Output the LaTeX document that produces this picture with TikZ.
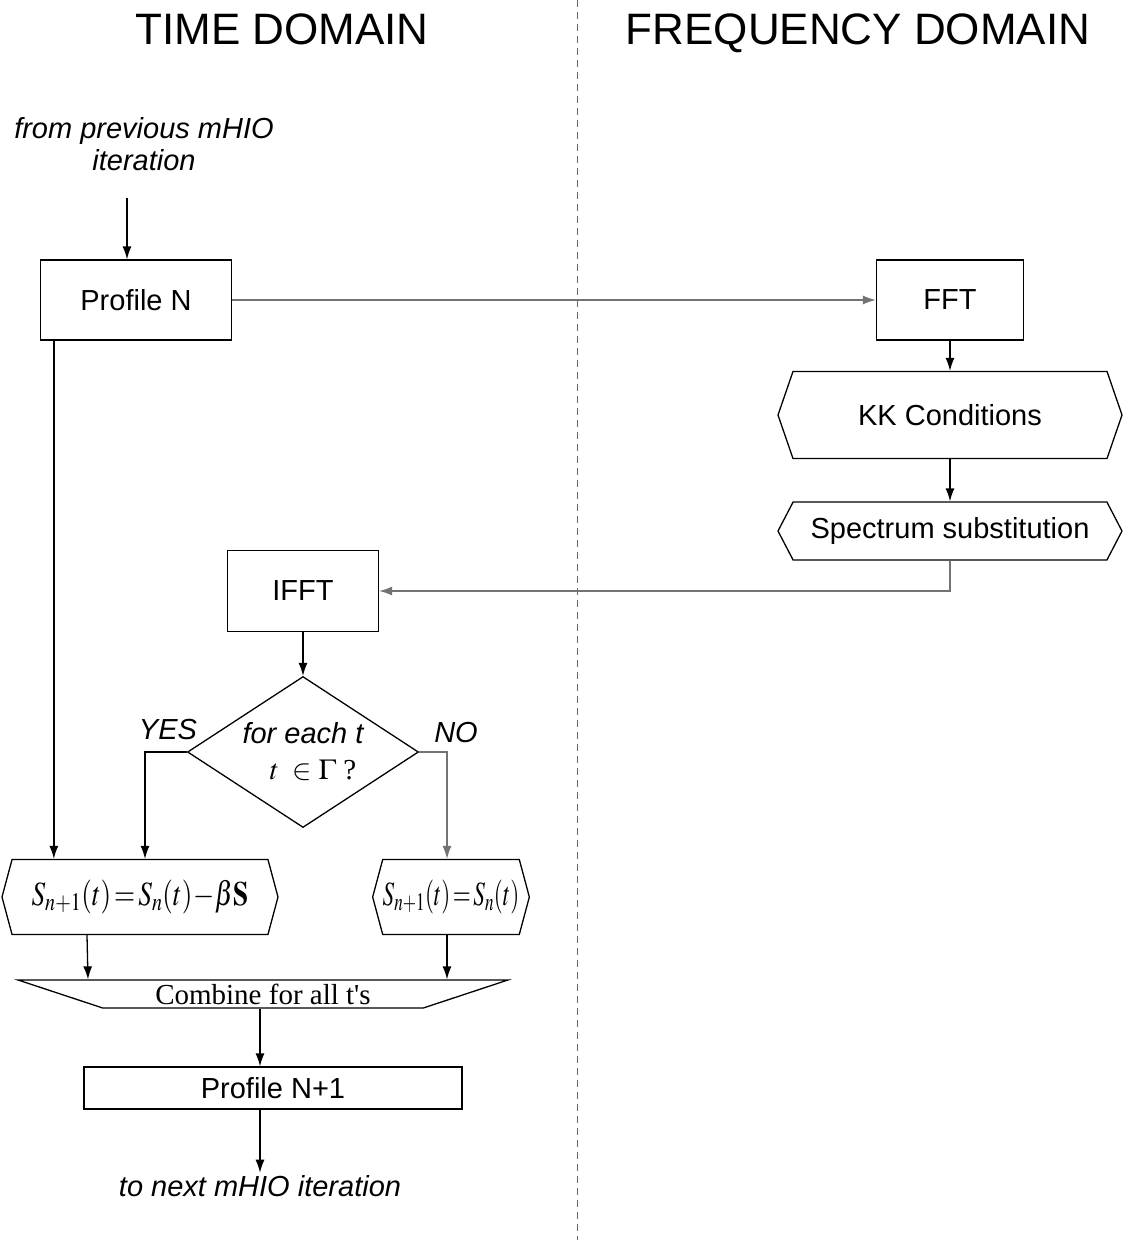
\documentclass[tikz,border=0pt]{standalone}
\usepackage{mathptmx}
\usepackage{graphicx}
\usepackage{fontspec}
\setmainfont{Liberation Serif}
\setsansfont{Liberation Sans}
\usetikzlibrary{arrows.meta, positioning, shapes.geometric, shapes.symbols}

\begin{document}
\begin{tikzpicture}[
    x=1pt, y=-1pt,
    >={Latex[length=13pt, width=9pt]},
    line width=1.3pt,
    every node/.style={font=\sffamily\fontsize{29}{32}\selectfont},
    box/.style={draw, rectangle, inner sep=0pt},
    prep/.style={draw, signal, signal to=east and west, inner sep=0pt},
    decision/.style={draw, diamond, aspect=1.53, inner sep=0pt, align=center},
    merge/.style={draw, trapezium, shape border rotate=180, trapezium stretches=true, inner sep=0pt},
    note/.style={font=\sffamily\itshape\fontsize{29}{32}\selectfont, align=center},
    faint/.style={black!55}
  ]
  \useasboundingbox (0,0) rectangle (1123,1240);

  % Headings
  \node[font=\sffamily\fontsize{44}{50}\selectfont] (time) at (282,29) {TIME DOMAIN};
  \node[font=\sffamily\fontsize{44}{50}\selectfont] (freq) at (858,33) {FREQUENCY DOMAIN};
  \draw[black!60, line width=1pt, dash pattern=on 7pt off 5pt] (577,0) -- (577,1240);

  % Time domain
  \node[note] (prev) at (144,144) {from previous mHIO\\iteration};
  \coordinate (prevend) at (127,198);
  \node[box, minimum width=191pt, minimum height=80pt] (profn) at (136,300) {Profile N};
  \node[box, minimum width=151pt, minimum height=81pt] (ifft) at (303,591) {IFFT};
  \node[decision, minimum width=231pt, minimum height=151pt] (test) at (303,752)
    {\itshape for each t\\[4pt]\hspace*{20pt}{\rmfamily$t\ \in\Gamma$ ?}};
  \node[font=\sffamily\itshape\fontsize{29}{32}\selectfont] (yes) at (168,730) {YES};
  \node[font=\sffamily\itshape\fontsize{29}{32}\selectfont] (no) at (456,733) {NO};
  \node[prep, signal pointer angle=150, minimum width=276pt, minimum height=75pt, font=\rmfamily\fontsize{34}{36}\selectfont] (upd) at (140,897)
    {\scalebox{0.8}[1]{$S_{n+1}(t)\!=\!S_n(t)\!-\!\beta\mathbf{S}$}};
  \node[prep, signal pointer angle=150, minimum width=142pt, minimum height=75pt, font=\rmfamily\fontsize{34}{36}\selectfont] (keep) at (451,897)
    {\scalebox{0.68}[1]{$S_{n+1}(t)\!=\!S_n(t)$}};
  \node[merge, trapezium angle=20, minimum width=490pt, minimum height=28pt, font=\rmfamily\fontsize{29}{30}\selectfont] (comb) at (263,994)
    {Combine for all t\textquotesingle s};
  \node[box, minimum width=378pt, minimum height=42pt] (pnext) at (273,1088) {Profile N+1};
  \node[note, inner sep=2pt] (next) at (260,1186) {to next mHIO iteration};

  % Frequency domain
  \node[box, minimum width=147pt, minimum height=80pt] (fft) at (950,300) {FFT};
  \node[prep, signal pointer angle=142, minimum width=344pt, minimum height=87pt] (kk) at (950,415) {KK Conditions};
  \node[prep, signal pointer angle=125, minimum width=344pt, minimum height=58pt] (spec) at (950,531) {Spectrum substitution};

  % Arrows
  \draw[->] (prevend) -- (prevend |- profn.north);
  \draw[->, faint] (profn.east) -- (fft.west);
  \draw[->] (fft.south) -- (kk.north);
  \draw[->] (kk.south) -- (spec.north);
  \draw[->, faint] (spec.south) |- (ifft.east);
  \draw[->] (ifft.south) -- (test.north);
  \draw[->] (test.west) -| (upd.north -| 145,0);
  \draw[->, faint] (test.east) -| (keep.north -| 447,0);
  \draw[->] ([xshift=14pt]profn.south west) -- ([xshift=14pt]profn.south west |- upd.north);
  \draw[->] (upd.south -| 87,0) -- (comb.north -| 88,0);
  \draw[->] (keep.south -| 447,0) -- (comb.north -| 447,0);
  \draw[->] (comb.south -| 260,0) -- (pnext.north -| 260,0);
  \draw[->] (pnext.south -| 260,0) -- (next.north);
\end{tikzpicture}
\end{document}
